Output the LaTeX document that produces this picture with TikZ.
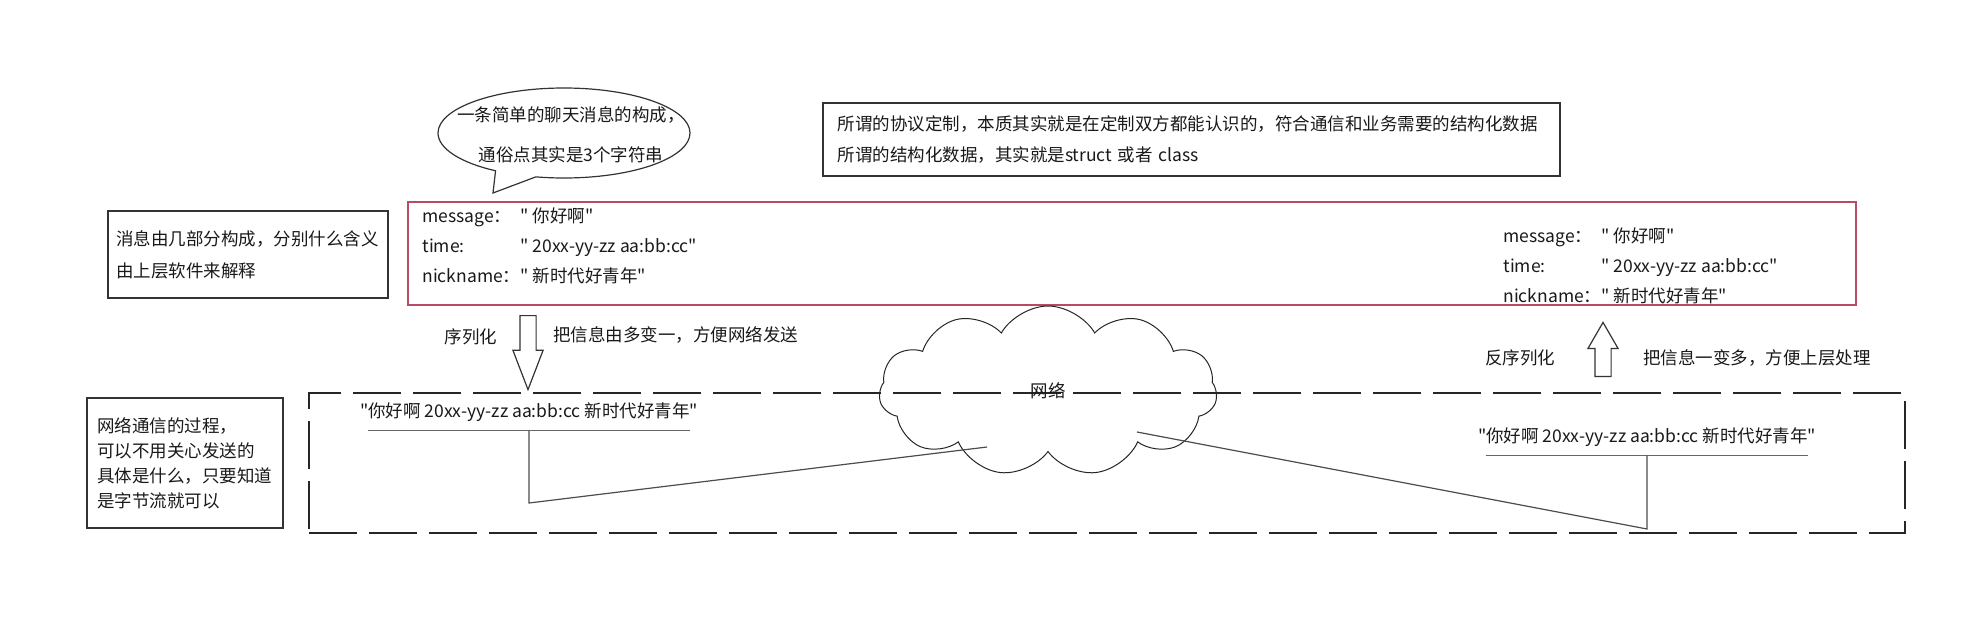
\documentclass[tikz,border=0pt]{standalone}
\usepackage{fontspec}
\setmainfont{Noto Sans CJK SC}[Ligatures=TeXOff]
\usepackage{xcolor}
\usepackage{tikz}
\usetikzlibrary{shapes.geometric, shapes.symbols, shapes.callouts, shapes.arrows}

\definecolor{framered}{RGB}{185,75,100}
\newcommand{\msgfield}[2]{\makebox[49pt][l]{#1}#2}

\begin{document}
\begin{tikzpicture}[x=0.5pt, y=-0.5pt,
    every node/.style={font=\fontsize{8.75pt}{15pt}\selectfont, text=black!90},
    note/.style={rectangle, draw=black!80, line width=0.6pt, align=left, inner sep=0pt},
    msgframe/.style={rectangle, draw=framered, line width=0.6pt},
    fields/.style={align=left, anchor=west, inner sep=0pt},
    bytestr/.style={inner xsep=-4pt, inner ysep=4.3pt, text height=7.5pt, text depth=2pt},
    netframe/.style={rectangle, draw=black!85, line width=0.6pt, dash pattern=on 24pt off 6pt},
    net/.style={cloud, draw=black!85, line width=0.5pt, cloud puffs=11, cloud puff arc=120, cloud ignores aspect},
    talk/.style={ellipse callout, draw=black!80, line width=0.6pt},
    blockarrow/.style={single arrow, draw=black!80, line width=0.6pt, inner sep=3.75pt, single arrow head extend=3.5pt},
    wire/.style={draw=black!70, line width=0.6pt}
]
    \useasboundingbox (0,0) rectangle (1980,616);

    % Notes
    \node[talk, minimum width=126pt, minimum height=45pt, callout absolute pointer={(493,193)}, callout pointer arc=20] (bubble) at (564,133) {};
    \node[align=center, font=\fontsize{8.75pt}{20pt}\selectfont] (bubbletext) at (571,135) {一条简单的聊天消息的构成，\\通俗点其实是3个字符串};
    \node[note, minimum width=368.5pt, minimum height=36.5pt, text width=354pt, font=\fontsize{8.75pt}{15.5pt}\selectfont] (protocol) at (1191.5,139.5) {所谓的协议定制，本质其实就是在定制双方都能认识的，符合通信和业务需要的结构化数据\\所谓的结构化数据，其实就是struct 或者 class};
    \node[note, minimum width=140pt, minimum height=43.5pt, text width=132pt, font=\fontsize{8.75pt}{16pt}\selectfont] (layernote) at (248,254.5) {消息由几部分构成，分别什么含义\\由上层软件来解释};
    \node[note, minimum width=98pt, minimum height=65pt, text width=88pt, font=\fontsize{8.75pt}{12.5pt}\selectfont] (flownote) at (185,463) {网络通信的过程，\\可以不用关心发送的\\具体是什么，只要知道\\是字节流就可以};

    % Structured message
    \node[msgframe, minimum width=724pt, minimum height=51.5pt] (msgbox) at (1132,253.5) {};
    \node[fields] (sendfields) at (422,246) {\msgfield{message：}{" 你好啊"}\\\msgfield{time:}{" 20xx-yy-zz aa:bb:cc"}\\\msgfield{nickname：}{" 新时代好青年"}};
    \node[fields] (recvfields) at (1503,266) {\msgfield{message：}{" 你好啊"}\\\msgfield{time:}{" 20xx-yy-zz aa:bb:cc"}\\\msgfield{nickname：}{" 新时代好青年"}};

    % Serialize / deserialize
    \node[blockarrow, shape border rotate=270, minimum height=37pt, single arrow tip angle=42, anchor=tail] (serial) at (528,315) {};
    \node (serlabel) at (471,337) {序列化};
    \node[anchor=west, inner sep=0pt] (serhint) at (553,335) {把信息由多变一，方便网络发送};
    \node[blockarrow, shape border rotate=90, minimum height=27pt, single arrow tip angle=60, anchor=tail] (deserial) at (1603,377) {};
    \node (deslabel) at (1520,358) {反序列化};
    \node[anchor=west, inner sep=0pt] (deshint) at (1643,358) {把信息一变多，方便上层处理};

    % Byte stream over the network
    \node[netframe, minimum width=798pt, minimum height=70pt] (netbox) at (1107,463) {};
    \node[net, minimum width=169pt, minimum height=85pt] (network) at (1048,391) {网络};
    \node[bytestr] (sleft) at (529,412) {"你好啊 20xx-yy-zz aa:bb:cc 新时代好青年"};
    \node[bytestr] (sright) at (1647,437) {"你好啊 20xx-yy-zz aa:bb:cc 新时代好青年"};
    \coordinate (lcorner) at (529,503);
    \coordinate (rcorner) at (1647,529);
    \coordinate (netin) at (987,447);
    \coordinate (netout) at (1137,432);

    \draw[wire, draw=black!60] (sleft.south west) -- (sleft.south east);
    \draw[wire, draw=black!60] (sright.south west) -- (sright.south east);
    \draw[wire] (sleft.south) -- (lcorner) -- (netin);
    \draw[wire] (netout) -- (rcorner) -- (sright.south);
\end{tikzpicture}
\end{document}
